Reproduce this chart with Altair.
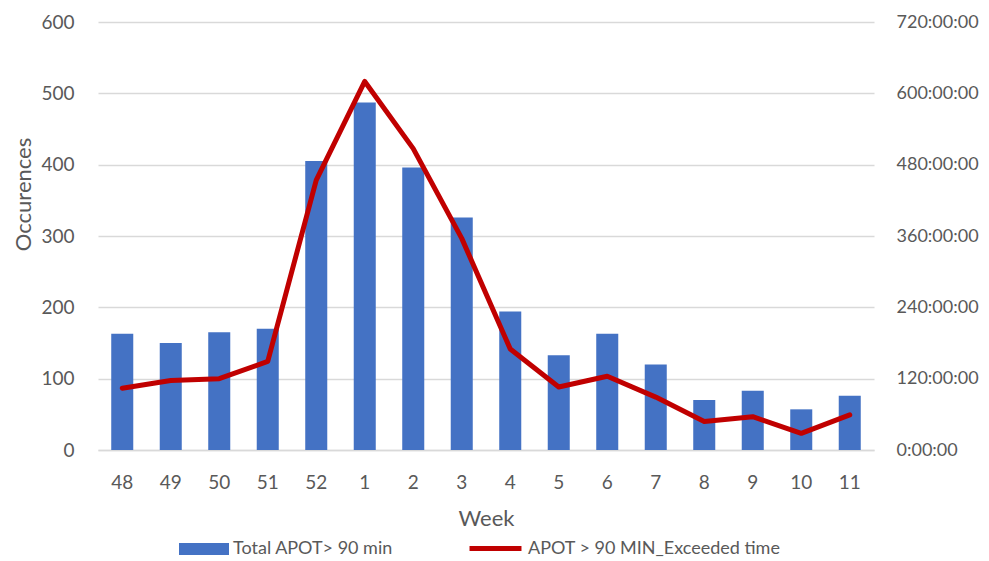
import altair as alt
import pandas as pd

weeks = ["48", "49", "50", "51", "52", "1", "2", "3", "4", "5", "6", "7", "8", "9", "10", "11"]
occurrences = [163, 150, 165, 170, 405, 487, 396, 326, 194, 133, 163, 120, 70, 83, 57, 76]
exceeded_hours = [104, 117, 120, 149, 454, 620, 507, 356, 170, 106, 124, 89, 48, 56, 28, 59]
left_ticks = [0, 100, 200, 300, 400, 500, 600]
right_ticks = [0, 120, 240, 360, 480, 600, 720]
bar_name = "Total APOT> 90 min"
line_name = "APOT > 90 MIN_Exceeded time"

df = pd.DataFrame({
    "week": weeks,
    "occ": occurrences,
    "hrs": exceeded_hours,
    "bar_series": [bar_name] * len(weeks),
    "line_series": [line_name] * len(weeks),
})

FONT = "Lato"
GREY = "#595959"

x_enc = alt.X(
    "week:N", sort=weeks, title="Week",
    scale=alt.Scale(paddingInner=0.546, paddingOuter=0.273),
    axis=alt.Axis(labelAngle=0, ticks=False, domainColor="#d9d9d9", domainWidth=1.5,
                  labelPadding=23, titlePadding=16, labelFontSize=19, titleFontSize=22,
                  labelColor=GREY, titleColor=GREY, titleFontWeight="normal"),
)

bars = alt.Chart(df).mark_bar(color="#4472c4").encode(
    x=x_enc,
    y=alt.Y("occ:Q", title="Occurences",
            scale=alt.Scale(domain=[0, 600], nice=False),
            axis=alt.Axis(values=left_ticks, ticks=False, domain=False, grid=True,
                          gridColor="#d9d9d9", gridWidth=1.5, labelPadding=24,
                          labelFontSize=19, titleFontSize=22, labelColor=GREY,
                          titleColor=GREY, titleFontWeight="normal",
                          titleX=-75, titleY=172, titleBaseline="middle")),
    color=alt.Color("bar_series:N", title=None,
                    scale=alt.Scale(domain=[bar_name], range=["#4472c4"]),
                    legend=alt.Legend(orient="none", legendX=81, legendY=502,
                                      symbolType="M-1,-0.24L1,-0.24L1,0.24L-1,0.24Z",
                                      symbolSize=2500, symbolStrokeWidth=0,
                                      labelFontSize=18, labelColor=GREY, labelFont=FONT,
                                      labelLimit=500, symbolOpacity=1)),
)

line = alt.Chart(df).mark_line(color="#c00000", strokeWidth=5, strokeCap="round",
                               strokeJoin="round").encode(
    x=alt.X("week:N", sort=weeks),
    y=alt.Y("hrs:Q", title=None,
            scale=alt.Scale(domain=[0, 720], nice=False),
            axis=alt.Axis(orient="right", values=right_ticks, ticks=False, domain=False,
                          grid=False, labelPadding=22, labelFontSize=18, labelColor=GREY,
                          labelExpr="datum.value + ':00:00'")),
    stroke=alt.Stroke("line_series:N", title=None,
                      scale=alt.Scale(domain=[line_name], range=["#c00000"]),
                      legend=alt.Legend(orient="none", legendX=369, legendY=498,
                                        symbolType="stroke", symbolSize=2700,
                                        symbolStrokeWidth=5, labelLimit=500,
                                        labelFontSize=18, labelColor=GREY, labelFont=FONT)),
)

chart = alt.layer(bars, line).resolve_scale(
    y="independent", color="independent", stroke="independent"
).properties(
    width=776, height=428,
    autosize=alt.AutoSizeParams(type="none"),
    padding={"left": 90, "top": 14, "right": 107, "bottom": 108},
    background="white",
).configure(font=FONT).configure_view(stroke=None).configure_axis(
    labelFont=FONT, titleFont=FONT
)

chart.save("out.html", embed_options={"renderer": "svg", "actions": False})
